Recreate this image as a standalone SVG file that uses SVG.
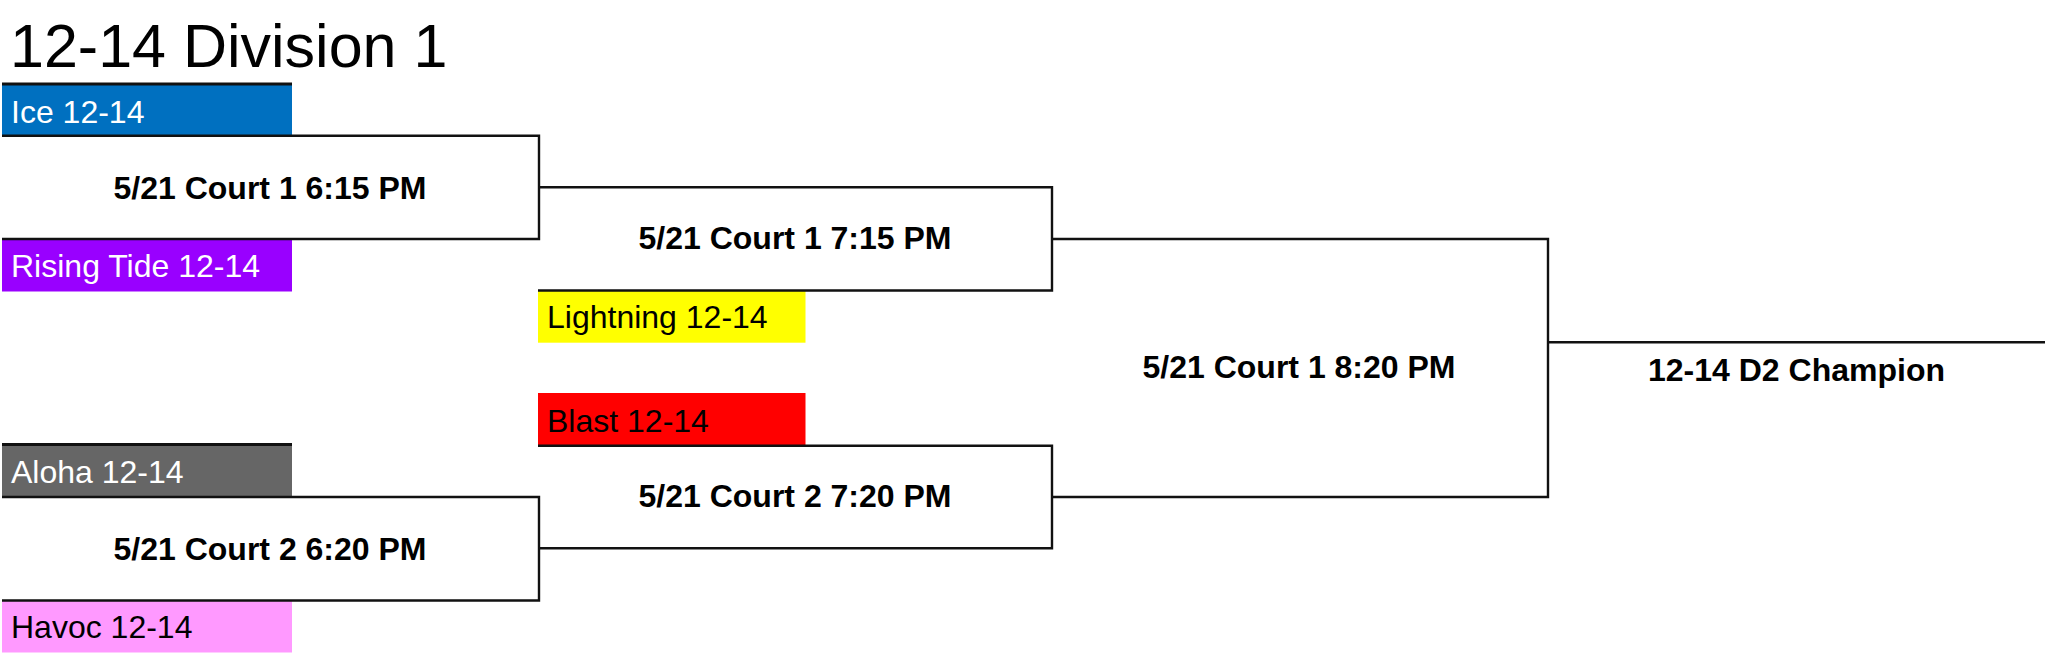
<svg xmlns="http://www.w3.org/2000/svg" width="2048" height="655" viewBox="0 0 2048 655">
<style>
.team{font-family:"Liberation Sans",Arial,sans-serif;font-size:32px}
.w{fill:#fff}
.k{fill:#000}
.match{font-family:"Liberation Sans",Arial,sans-serif;font-size:32px;font-weight:bold;fill:#000;text-anchor:middle}
.title{font-family:"Liberation Sans",Arial,sans-serif;font-size:61px;fill:#000}
.ln{fill:none;stroke:#111;stroke-width:2.4}
.edge{stroke:#111;stroke-width:2.8}
</style>
<rect width="2048" height="655" fill="#fff"/>
<text class="title" x="10" y="66.7">12-14 Division 1</text>

<g id="team-ice">
<rect x="2" y="84" width="290" height="51.7" fill="#0070C0"/>
<line class="edge" x1="2" y1="84" x2="292" y2="84"/>
<text class="team w" x="11" y="122.5">Ice 12-14</text>
</g>
<g id="team-rising-tide">
<rect x="2" y="239" width="290" height="52.5" fill="#9900FF"/>
<text class="team w" x="11" y="277">Rising Tide 12-14</text>
</g>
<g id="team-aloha">
<rect x="2" y="444.5" width="290" height="52.5" fill="#666666"/>
<line class="edge" x1="2" y1="444.5" x2="292" y2="444.5"/>
<text class="team w" x="11" y="483.3">Aloha 12-14</text>
</g>
<g id="team-havoc">
<rect x="2" y="600.5" width="290" height="52" fill="#FF99FF"/>
<text class="team k" x="11" y="638.3">Havoc 12-14</text>
</g>
<g id="team-lightning">
<rect x="538" y="290.5" width="267.5" height="52.2" fill="#FFFF00"/>
<text class="team k" x="547" y="328">Lightning 12-14</text>
</g>
<g id="team-blast">
<rect x="538" y="393" width="267.5" height="52.7" fill="#FF0000"/>
<text class="team k" x="547" y="431.7">Blast 12-14</text>
</g>

<g id="connectors">
<path class="ln" d="M2,135.7 H539 V239 H2"/>
<path class="ln" d="M2,497 H539 V600.5 H2"/>
<path class="ln" d="M539,187.3 H1052 V290.5 H538"/>
<path class="ln" d="M538,445.7 H1052 V548.3 H539"/>
<path class="ln" d="M1052,239 H1548 V497 H1052"/>
<path class="ln" d="M1548,342.3 H2045"/>
</g>

<g id="match-c1-615">
<text class="match" x="270" y="199.3">5/21 Court 1 6:15 PM</text>
</g>
<g id="match-c2-620">
<text class="match" x="270" y="560">5/21 Court 2 6:20 PM</text>
</g>
<g id="match-c1-715">
<text class="match" x="795" y="249.3">5/21 Court 1 7:15 PM</text>
</g>
<g id="match-c2-720">
<text class="match" x="795" y="507.3">5/21 Court 2 7:20 PM</text>
</g>
<g id="match-c1-820">
<text class="match" x="1299" y="377.7">5/21 Court 1 8:20 PM</text>
</g>
<g id="champion">
<text class="match" x="1796.5" y="381">12-14 D2 Champion</text>
</g>
</svg>
